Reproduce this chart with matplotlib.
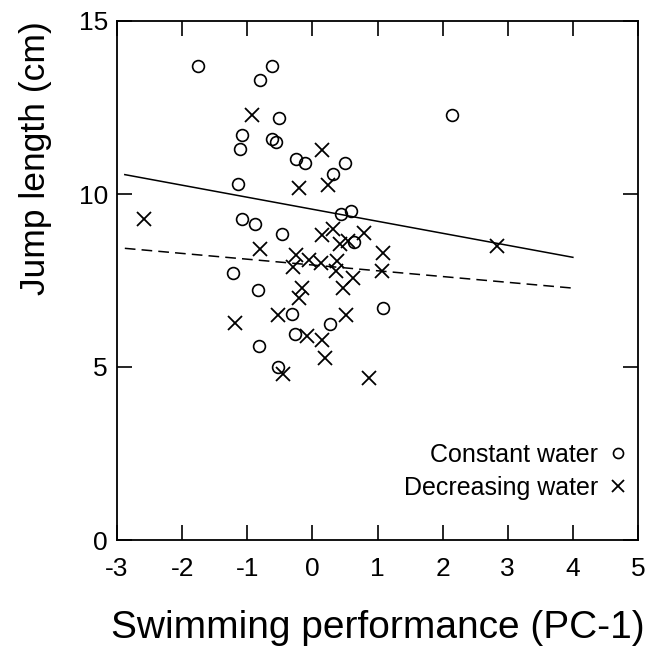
import matplotlib
matplotlib.use("Agg")
import matplotlib.pyplot as plt

plt.rcParams['font.family'] = ['Liberation Sans', 'DejaVu Sans']

# constant water (circles)
const_x = [-1.76, -0.62, -0.80, -0.51, -1.08, -1.11, -0.62, -0.56, -0.25, -0.11,
           0.50, 0.32, -1.14, -1.08, -0.88, -0.47, 0.44, 0.59, 0.64, -1.22,
           -0.83, -0.31, 0.27, -0.27, -0.82, -0.53, 1.09, 2.15]
const_y = [13.70, 13.70, 13.29, 12.20, 11.71, 11.31, 11.60, 11.51, 11.02, 10.91,
           10.91, 10.59, 10.30, 9.29, 9.12, 8.83, 9.41, 9.50, 8.60, 7.71,
           7.22, 6.53, 6.24, 5.96, 5.61, 5.01, 6.71, 12.29]

# decreasing water (crosses)
decr_x = [-2.59, -0.93, 0.15, -0.20, 0.24, -0.80, 0.15, 0.32, 0.79, 0.43,
          0.55, 1.09, -0.25, -0.30, -0.05, 0.13, 0.38, 0.36, 1.07, 0.62,
          0.47, -0.16, -0.20, -1.19, -0.53, 0.52, -0.08, 0.15, 0.20, -0.45,
          0.87, 2.84]
decr_y = [9.29, 12.29, 11.28, 10.16, 10.27, 8.40, 8.81, 8.98, 8.86, 8.55,
          8.63, 8.29, 8.23, 7.88, 8.09, 8.00, 8.06, 7.77, 7.77, 7.57,
          7.28, 7.28, 6.99, 6.27, 6.50, 6.50, 5.90, 5.78, 5.27, 4.81,
          4.69, 8.49]

# regression lines (end points)
fit_x = [-2.88, 4.0]
const_fit = [10.56, 8.17]
decr_fit = [8.43, 7.28]

x_ticks = [-3, -2, -1, 0, 1, 2, 3, 4, 5]
y_ticks = [0, 5, 10, 15]

fig = plt.figure(figsize=(6.59, 6.46), dpi=100)
ax = fig.add_axes([117/659, 1 - 540/646, 521/659, 519/646])

ax.plot(fit_x, const_fit, color='black', lw=1.1)
ax.plot(fit_x, decr_fit, color='black', lw=1.1, dashes=(7, 4))

ax.plot(const_x, const_y, 'o', ms=8.5, mfc='none', mec='black', mew=1.2,
        label='Constant water')
ax.plot(decr_x, decr_y, 'x', ms=10, mec='black', mew=1.3,
        label='Decreasing water')

ax.set_xlim(-3, 5)
ax.set_ylim(0, 15)
ax.set_xticks(x_ticks)
ax.set_yticks(y_ticks)
ax.set_xticklabels([str(t) for t in x_ticks])
ax.tick_params(axis='both', direction='in', length=11, width=1.2,
               top=True, right=True, labelsize=19)
ax.tick_params(axis='x', pad=12)
ax.tick_params(axis='y', pad=6.5)
for s in ax.spines.values():
    s.set_linewidth(1.3)

ax.set_xlabel('Swimming performance (PC-1)', fontsize=28)
ax.xaxis.set_label_coords(0.5, -0.135)
ax.set_ylabel('Jump length (cm)', fontsize=25.5)
ax.yaxis.set_label_coords(-0.125, 0.735)

ax.legend(loc='lower right', bbox_to_anchor=(1.005, 0.053), frameon=False,
          markerfirst=False, fontsize=18, handlelength=0.8,
          handletextpad=0.4, labelspacing=0.37, borderpad=0,
          markerscale=0.85)

fig.savefig('out.png', dpi=100)
